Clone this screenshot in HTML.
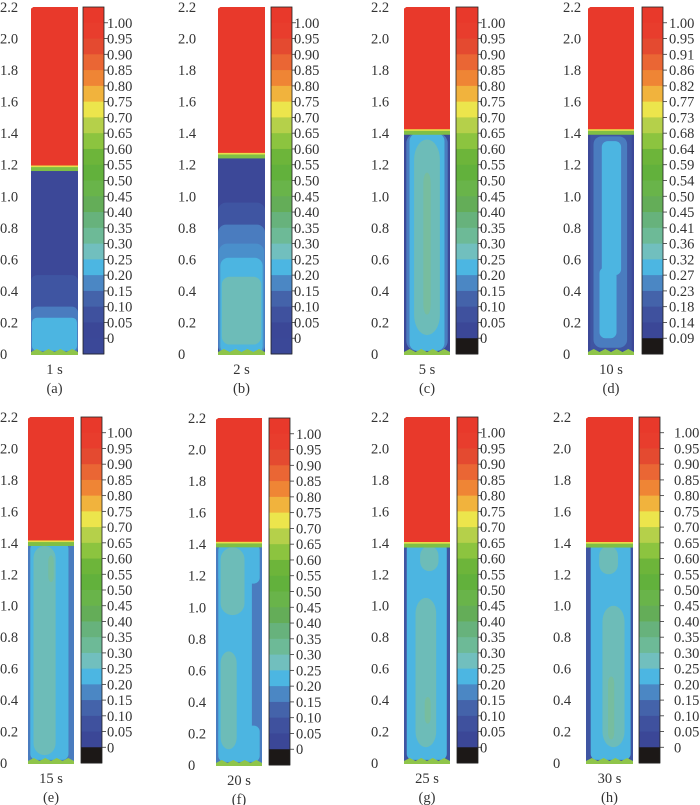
<!DOCTYPE html>
<html><head><meta charset="utf-8"><style>
html,body{margin:0;padding:0;background:#fff;}
svg{display:block;font-family:"Liberation Serif",serif;}
</style></head><body>
<svg id="fig" width="700" height="805" viewBox="0 0 700 805"></svg>
<script>
// ---- data ----
const captions = ["1 s","2 s","5 s","10 s","15 s","20 s","25 s","30 s"];
const letters = ["(a)","(b)","(c)","(d)","(e)","(f)","(g)","(h)"];
const interfaceHeights = [1.19, 1.27, 1.42, 1.42, 1.41, 1.41, 1.40, 1.40];
const yTicks = [0,0.2,0.4,0.6,0.8,1.0,1.2,1.4,1.6,1.8,2.0,2.2];
const cbLabelsStd = ["1.00","0.95","0.90","0.85","0.80","0.75","0.70","0.65","0.60","0.55","0.50","0.45","0.40","0.35","0.30","0.25","0.20","0.15","0.10","0.05","0"];
const cbLabelsD = ["1.00","0.95","0.91","0.86","0.82","0.77","0.73","0.68","0.64","0.59","0.54","0.50","0.45","0.41","0.36","0.32","0.27","0.23","0.18","0.14","0.09"];
const hasBlack = [false,false,true,true,true,true,true,true];
const cbColors = ["#e8392b","#e83d2d","#e44a30","#ea6634","#ef8535","#f1b33d","#ece54c","#b5d04a","#8cc43f","#6db53a","#62b13c","#69b44a","#64ad58","#67b27c","#6dba97","#71bfbe","#4cb6e2","#4b87c4","#4463aa","#3f519e","#3b4797","#3b4898"];
// panel layouts (pixels)
const layout = [
 {lx:0,cx:31,cw:47,bx:83,bw:21,top:7,bot:354,tl:107},
 {lx:178,cx:218,cw:47,bx:271,bw:21,top:7,bot:354,tl:294},
 {lx:371,cx:404,cw:46,bx:456,bw:22,top:7,bot:354,tl:480},
 {lx:563,cx:588,cw:46,bx:642,bw:21,top:7,bot:354,tl:669},
 {lx:0,cx:28,cw:46,bx:81,bw:21,top:417,bot:763,tl:107},
 {lx:188,cx:216,cw:46,bx:269,bw:21,top:418,bot:765,tl:296},
 {lx:371,cx:404,cw:46,bx:457,bw:21,top:417,bot:763,tl:480},
 {lx:553,cx:586,cw:47,bx:639,bw:21,top:417,bot:763,tl:674}
];
const C = {dark:"#3c4898",dark2:"#3f55a2",blue:"#4a7cbf",blue2:"#4a8fcb",cyan:"#4cb5e1",teal:"#6dbcb8",tealg:"#77bd9f",green:"#8fc54a",yel:"#e7df4a",red:"#e8392b"};
// field regions per panel: [color, x0frac, x1frac, y0 (m), y1 (m), roundness]
const fields = [
 [["dark",0,1,0,1.17,0],["dark2",0,1,0,0.5,6],["blue",0,1,0,0.3,6],["cyan",0.02,0.98,0.02,0.23,5]],
 [["dark",0,1,0,1.25,0],["dark2",0,1,0,0.96,8],["blue",0,1,0,0.82,8],["blue2",0.02,0.98,0,0.7,8],["cyan",0.05,0.95,0,0.61,8],["teal",0.08,0.92,0.06,0.49,8]],
 [["dark",0,1,0,1.40,0],["blue",0.05,0.95,0.02,1.40,10],["cyan",0.12,0.88,0.02,1.40,8],["teal",0.22,0.78,0.12,1.36,20],["tealg",0.42,0.58,0.25,1.15,10]],
 [["dark",0,1,0,1.40,0],["dark2",0.05,0.95,0.02,1.40,0],["blue",0.12,0.85,0.04,1.38,8],["cyan",0.3,0.72,0.5,1.35,6],["cyan",0.25,0.62,0.1,0.55,6]],
 [["blue",0,1,0,1.40,0],["cyan",0.05,0.88,0.02,1.40,6],["teal",0.12,0.6,0.05,1.38,12],["tealg",0.44,0.56,1.15,1.32,6]],
 [["blue",0,1,0,1.40,0],["cyan",0.05,0.78,0.02,1.40,10],["cyan",0.05,0.95,0.02,0.25,6],["cyan",0.05,0.95,1.15,1.40,6],["teal",0.1,0.45,0.1,0.72,12],["teal",0.1,0.62,0.95,1.38,12]],
 [["dark2",0,1,0,1.40,0],["cyan",0.06,0.93,0.02,1.40,6],["teal",0.25,0.7,0.1,1.05,16],["teal",0.35,0.75,1.22,1.38,10],["tealg",0.45,0.58,0.25,0.42,6]],
 [["dark2",0,1,0,1.40,0],["cyan",0.1,0.95,0.02,1.40,6],["teal",0.35,0.82,0.1,1.0,16],["teal",0.28,0.68,1.2,1.38,10],["tealg",0.47,0.6,0.15,0.55,6]]
];
// ---- drawing ----
const NS="http://www.w3.org/2000/svg";
const svg=document.getElementById('fig');
const FS=14.5;
function mk(tag,attrs,parent){const e=document.createElementNS(NS,tag);for(const k in attrs)e.setAttribute(k,attrs[k]);(parent||svg).appendChild(e);return e;}
layout.forEach((L,i)=>{
  const g=mk('g',{});
  
  
  const ys=v=>L.top+(2.2-v)*(L.bot-L.top)/2.2;
  const xs=f=>L.cx+f*L.cw;
  yTicks.forEach(t=>{
    const tx=mk('text',{x:L.lx,y:ys(t)+5,'font-size':FS,fill:'#333'},g);
    tx.textContent=(t===0?'0':t.toFixed(1));
    
    
  });
  fields[i].forEach(f=>{
    const r=mk('rect',{x:xs(f[1]),y:ys(f[4]),width:xs(f[2])-xs(f[1]),height:ys(f[3])-ys(f[4]),rx:f[5],fill:C[f[0]]},g);
    
    
  });
  const h=interfaceHeights[i];
  const ib=mk('rect',{x:xs(0),y:ys(h),width:L.cw,height:ys(h-0.03)-ys(h),fill:'#7fbf45'},g);
  
  
  const gr=mk('path',{d:`M${xs(0)} ${ys(2.19)} L${xs(0.05)} ${ys(2.2)} L${xs(1)} ${ys(2.2)} L${xs(1)} ${ys(h)} L${xs(0)} ${ys(h)} Z`,fill:C.red},g);
  
  
  mk('rect',{x:xs(0),y:ys(h)-0.8,width:L.cw,height:1.6,fill:C.yel},g);
  let d=`M${xs(0)} ${ys(0)}`;
  for(let k=0;k<=8;k++){d+=` L${xs(k/8)} ${ys(0)-(k%2?5:2)}`;}
  d+=` L${xs(1)} ${ys(0)+1} L${xs(0)} ${ys(0)+1} Z`;
  const bw=mk('path',{d:d,fill:C.green},g);
  
  
  const cb=mk('g',{},g);
  
  
  const n=cbColors.length, bh=(L.bot-L.top)/n;
  cbColors.forEach((c,k)=>{
    let col=c; if(k===n-1&&hasBlack[i]) col='#1c1817';
    mk('rect',{x:L.bx,y:L.top+k*bh,width:L.bw,height:bh+0.5,fill:col},cb);
  });
  mk('rect',{x:L.bx,y:L.top,width:L.bw,height:L.bot-L.top,fill:'none',stroke:'#222','stroke-width':0.8},cb);
  const labs=(i===3?cbLabelsD:cbLabelsStd);
  labs.forEach((s,k)=>{
    const yy=L.top+(k+1)*bh;
    mk('line',{x1:L.bx+L.bw,x2:L.bx+L.bw+4,y1:yy,y2:yy,stroke:'#333','stroke-width':0.8},cb);
    const t=mk('text',{x:L.tl,y:yy+5,'font-size':FS,fill:'#333'},cb);
    t.textContent=s;
    
    
  });
  const cxm=L.cx+L.cw/2;
  const t1=mk('text',{x:cxm,y:L.bot+20,'font-size':FS,'text-anchor':'middle',fill:'#333'},g);
  t1.textContent=captions[i];
  
  
  const t2=mk('text',{x:cxm,y:L.bot+39,'font-size':FS,'text-anchor':'middle',fill:'#333'},g);
  t2.textContent=letters[i];
  
  
});
</script>
</body></html>
